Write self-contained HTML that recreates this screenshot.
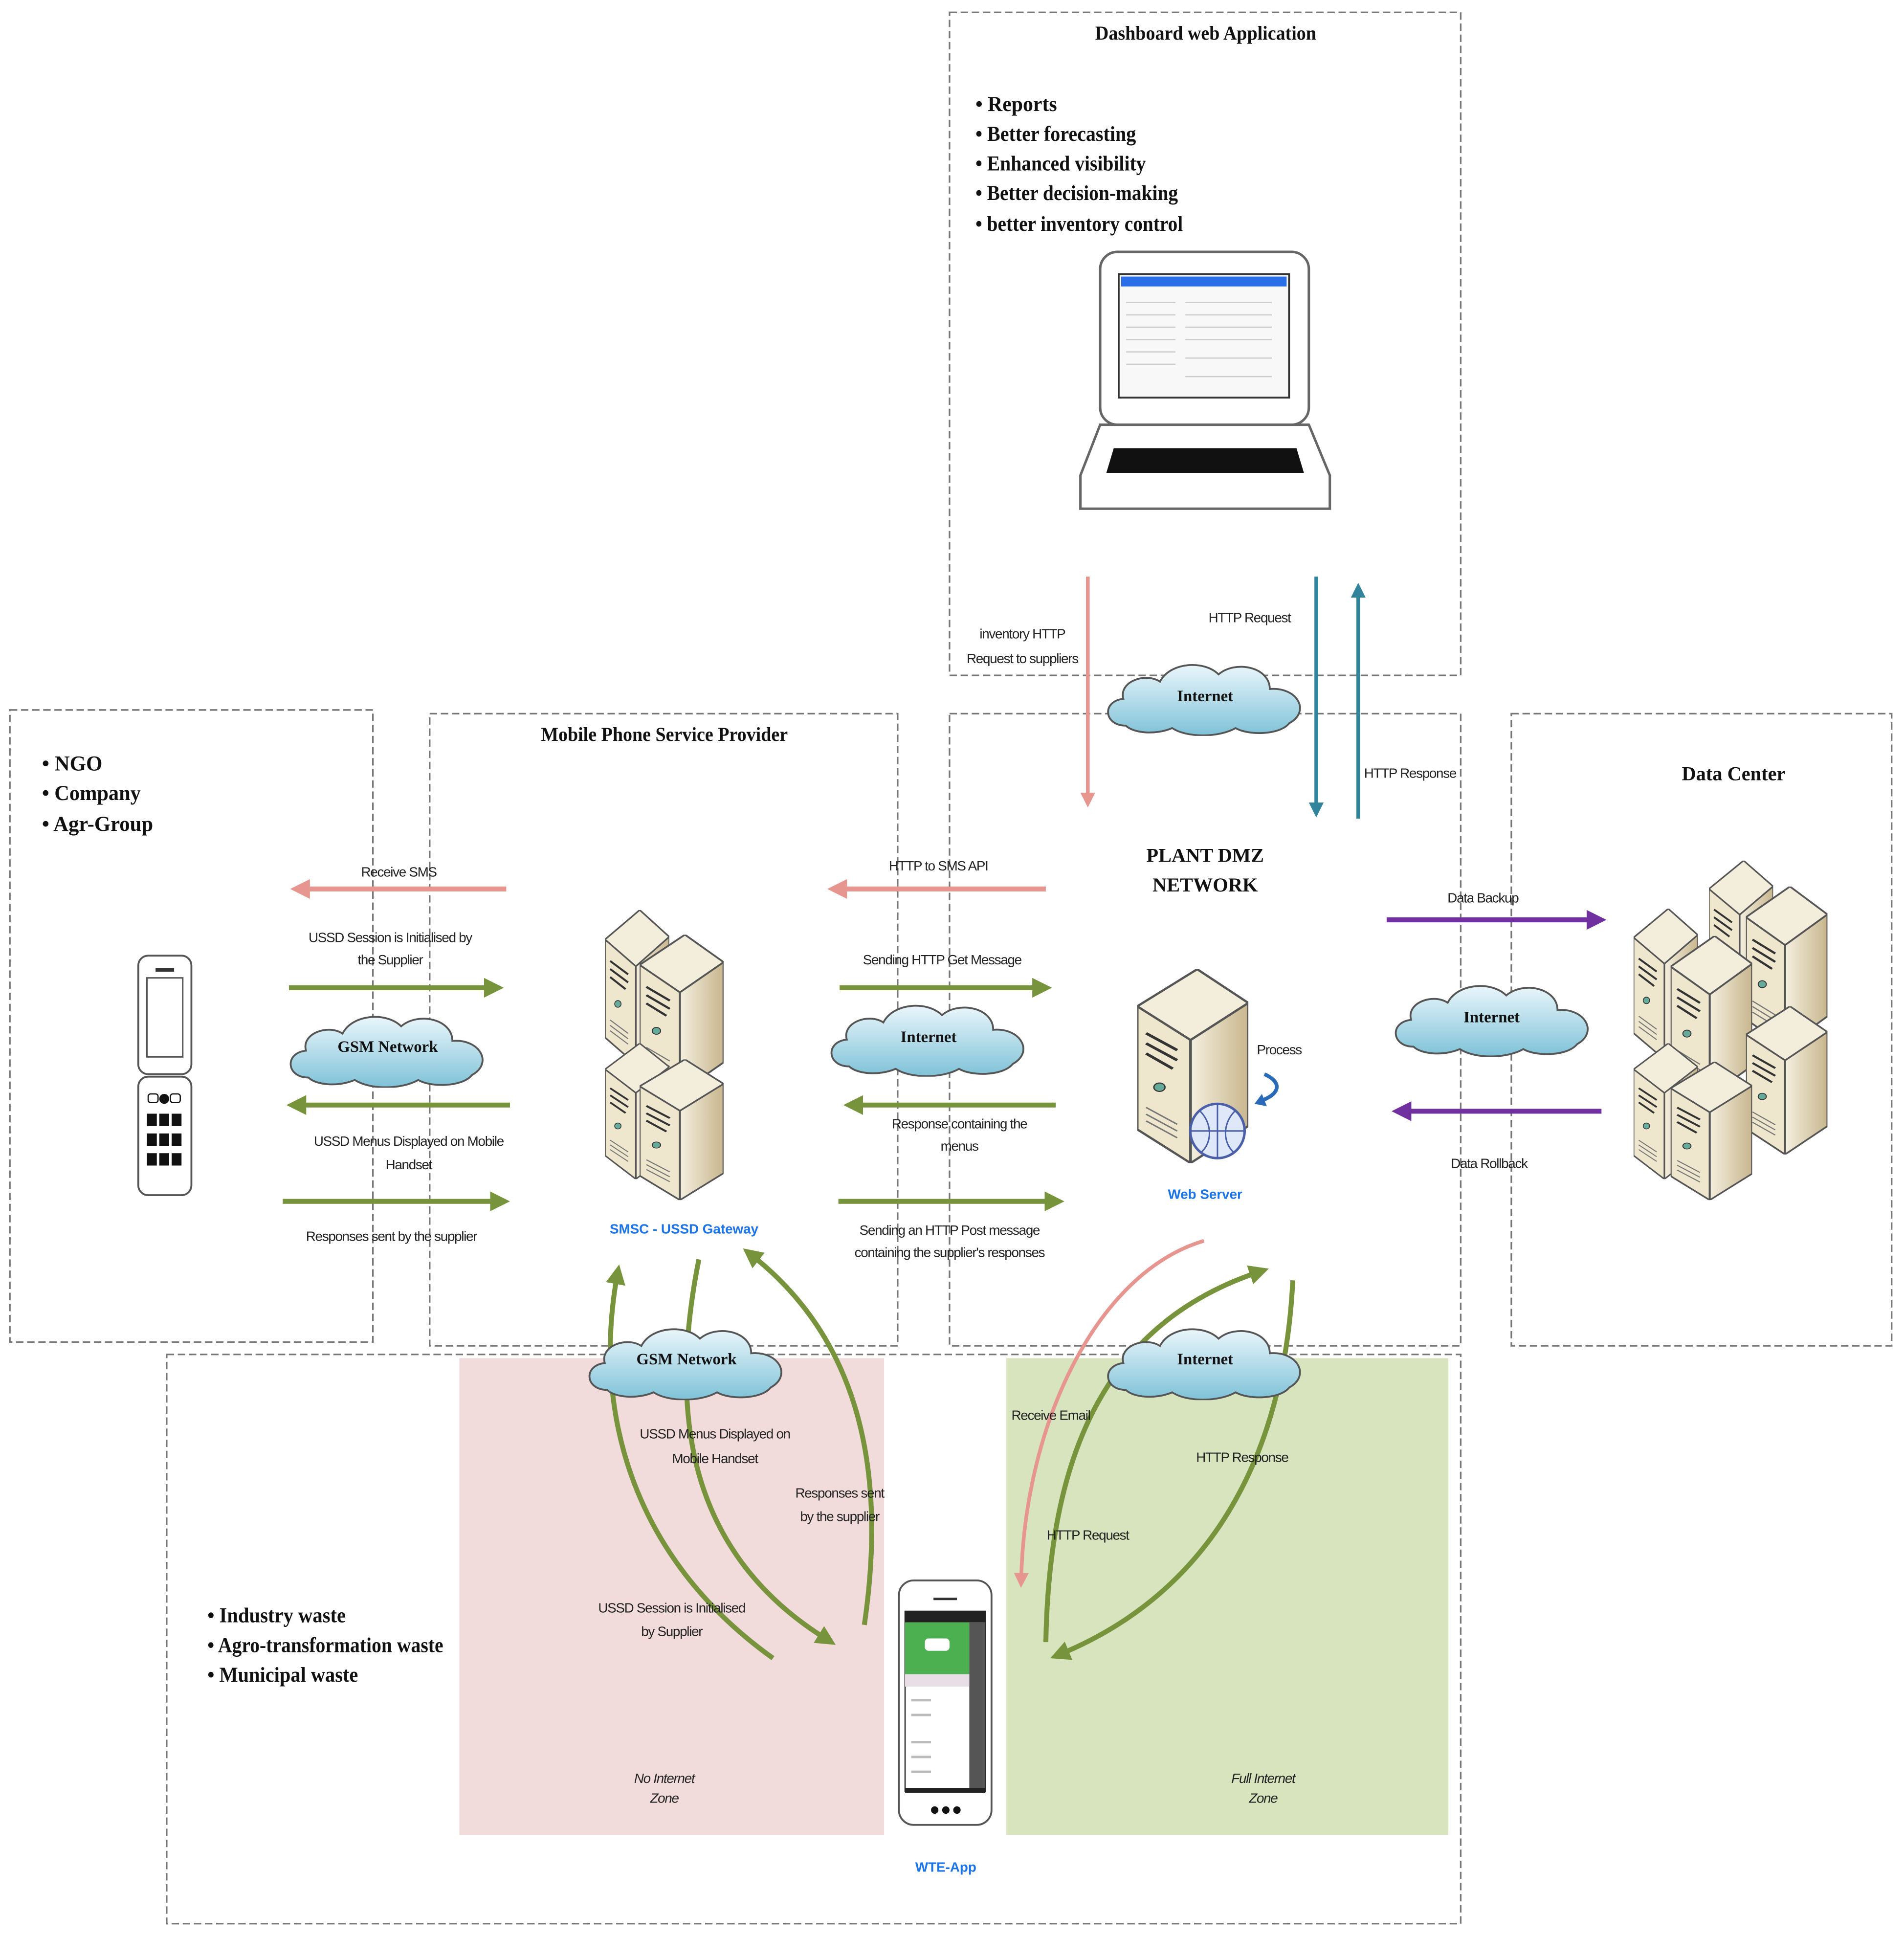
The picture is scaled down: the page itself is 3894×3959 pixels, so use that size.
<!DOCTYPE html>
<html><head><meta charset="utf-8"><style>
html,body{margin:0;padding:0;background:#fff}
svg{display:block}
.t{font-family:"Liberation Sans",sans-serif;font-size:11px;fill:#222;letter-spacing:-0.5px}
.h{font-family:"Liberation Serif",serif;font-weight:bold;font-size:16px;fill:#111}
.b{font-family:"Liberation Serif",serif;font-weight:bold;font-size:17px;fill:#111}
.c{font-family:"Liberation Serif",serif;font-weight:bold;font-size:13px;fill:#111}
.bl{font-family:"Liberation Sans",sans-serif;font-weight:bold;font-size:11px;fill:#1a73e8}
.box{fill:none;stroke:#777;stroke-width:1.3;stroke-dasharray:6,3}
</style></head><body>
<svg width="3894" height="3959" viewBox="0 0 1542 1568" preserveAspectRatio="none" xmlns="http://www.w3.org/2000/svg">
<defs>
<linearGradient id="cl" x1="0" y1="0" x2="0" y2="1"><stop offset="0" stop-color="#eaf6fa"/><stop offset="1" stop-color="#7fc2d8"/></linearGradient>
<linearGradient id="sv" x1="0" y1="0" x2="1" y2="0"><stop offset="0" stop-color="#f4efdf"/><stop offset="1" stop-color="#c8b68e"/></linearGradient>
<symbol id="cloud" viewBox="0 0 170 66">
<path d="M20,58 C2,58 0,38 18,36 C14,22 36,14 48,22 C56,6 84,4 96,16 C110,4 138,10 138,28 C160,26 172,46 154,56 C146,66 120,66 110,60 C96,68 70,68 58,60 C44,66 26,64 20,58 Z" fill="url(#cl)" stroke="#555" stroke-width="1.5"/>
</symbol>
<symbol id="tower" viewBox="0 0 50 115" preserveAspectRatio="none">
<polygon points="0,22 27,0 50,20 24,42" fill="#f3eedc" stroke="#555" stroke-width="1.2"/>
<polygon points="0,22 24,42 24,115 0,95" fill="#eee6cd" stroke="#555" stroke-width="1.2"/>
<polygon points="24,42 50,20 50,93 24,115" fill="url(#sv)" stroke="#555" stroke-width="1.2"/>
<path d="M4,38 l14,10 M4,44 l14,10 M4,50 l12,9" stroke="#333" stroke-width="1.5"/>
<circle cx="10" cy="70" r="2.5" fill="#6a9" stroke="#333" stroke-width=".6"/>
<path d="M4,82 l14,10 M4,86 l14,10 M4,90 l14,10" stroke="#777" stroke-width=".8"/>
</symbol>
<marker id="ag" markerWidth="4" markerHeight="4" refX="2" refY="2" orient="auto" markerUnits="strokeWidth"><path d="M0,0 L4,2 L0,4Z" fill="#77933c"/></marker>
<marker id="ap" markerWidth="4" markerHeight="4" refX="2" refY="2" orient="auto" markerUnits="strokeWidth"><path d="M0,0 L4,2 L0,4Z" fill="#e6958f"/></marker>
<marker id="at" markerWidth="4" markerHeight="4" refX="2" refY="2" orient="auto" markerUnits="strokeWidth"><path d="M0,0 L4,2 L0,4Z" fill="#31849b"/></marker>
<marker id="au" markerWidth="4" markerHeight="4" refX="2" refY="2" orient="auto" markerUnits="strokeWidth"><path d="M0,0 L4,2 L0,4Z" fill="#7030a0"/></marker>
</defs>

<rect x="372" y="1100" width="344" height="386" fill="#f2dcdb"/>
<rect x="815" y="1100" width="358" height="386" fill="#d7e4bd"/>

<rect class="box" x="769" y="10" width="414" height="537"/>
<rect class="box" x="8" y="575" width="294" height="512"/>
<rect class="box" x="348" y="578" width="379" height="512"/>
<rect class="box" x="769" y="578" width="414" height="512"/>
<rect class="box" x="1224" y="578" width="308" height="512"/>
<rect class="box" x="135" y="1097" width="1048" height="461"/>

<text class="h" x="887" y="32" textLength="179" lengthAdjust="spacingAndGlyphs">Dashboard web Application</text>
<g class="b">
<text x="790" y="90" textLength="66" lengthAdjust="spacingAndGlyphs">•  Reports</text>
<text x="790" y="114" textLength="130" lengthAdjust="spacingAndGlyphs">•  Better forecasting</text>
<text x="790" y="138" textLength="138" lengthAdjust="spacingAndGlyphs">•  Enhanced visibility</text>
<text x="790" y="162" textLength="164" lengthAdjust="spacingAndGlyphs">•  Better decision-making</text>
<text x="790" y="187" textLength="168" lengthAdjust="spacingAndGlyphs">•  better inventory control</text>
</g>
<rect x="891" y="204" width="169" height="140" rx="14" fill="#fff" stroke="#666" stroke-width="2"/>
<rect x="906" y="222" width="138" height="100" fill="#f8f8f8" stroke="#333" stroke-width="1.5"/>
<rect x="908" y="224" width="134" height="8" fill="#2a6ee8"/>
<g stroke="#ccc" stroke-width="1"><path d="M912,245h40M912,255h40M912,265h40M912,275h40M912,285h40M912,295h40M960,245h70M960,255h70M960,265h70M960,275h70M960,290h70M960,305h70"/></g>
<polygon points="891,344 1060,344 1077,385 1077,412 875,412 875,385" fill="#fff" stroke="#666" stroke-width="2"/>
<polygon points="902,363 1050,363 1056,383 896,383" fill="#111"/>

<line x1="881" y1="467" x2="881" y2="648" stroke="#e6958f" stroke-width="3" marker-end="url(#ap)"/>
<line x1="1066" y1="467" x2="1066" y2="656" stroke="#31849b" stroke-width="3" marker-end="url(#at)"/>
<line x1="1100" y1="663" x2="1100" y2="478" stroke="#31849b" stroke-width="3" marker-end="url(#at)"/>
<text class="t" x="828" y="517" text-anchor="middle">inventory HTTP</text>
<text class="t" x="828" y="537" text-anchor="middle">Request to suppliers</text>
<text class="t" x="1012" y="504" text-anchor="middle">HTTP Request</text>
<text class="t" x="1142" y="630" text-anchor="middle">HTTP Response</text>
<use href="#cloud" x="892" y="530" width="168" height="66"/>
<text class="c" x="976" y="568" text-anchor="middle">Internet</text>

<g class="b">
<text x="34" y="624">•  NGO</text>
<text x="34" y="648" textLength="80" lengthAdjust="spacingAndGlyphs">•  Company</text>
<text x="34" y="673" textLength="90" lengthAdjust="spacingAndGlyphs">•  Agr-Group</text>
</g>
<rect x="112" y="774" width="43" height="96" rx="8" fill="#fff" stroke="#555" stroke-width="1.5"/>
<rect x="119" y="792" width="29" height="64" fill="#fff" stroke="#555" stroke-width="1.2"/>
<rect x="126" y="784" width="15" height="3" fill="#333"/>
<rect x="112" y="872" width="43" height="96" rx="8" fill="#fff" stroke="#555" stroke-width="1.5"/>
<g fill="#111"><circle cx="133" cy="890" r="4"/><rect x="120" y="886" width="8" height="7" rx="2" fill="none" stroke="#111"/><rect x="138" y="886" width="8" height="7" rx="2" fill="none" stroke="#111"/>
<rect x="119" y="902" width="8" height="10"/><rect x="129" y="902" width="8" height="10"/><rect x="139" y="902" width="8" height="10"/>
<rect x="119" y="918" width="8" height="10"/><rect x="129" y="918" width="8" height="10"/><rect x="139" y="918" width="8" height="10"/>
<rect x="119" y="934" width="8" height="10"/><rect x="129" y="934" width="8" height="10"/><rect x="139" y="934" width="8" height="10"/></g>

<line x1="410" y1="720" x2="243" y2="720" stroke="#e6958f" stroke-width="4" marker-end="url(#ap)"/>
<text class="t" x="323" y="710" text-anchor="middle">Receive SMS</text>
<text class="t" x="316" y="763" text-anchor="middle">USSD Session is Initialised by</text>
<text class="t" x="316" y="781" text-anchor="middle">the Supplier</text>
<line x1="234" y1="800" x2="400" y2="800" stroke="#77933c" stroke-width="4" marker-end="url(#ag)"/>
<use href="#cloud" x="230" y="815" width="168" height="66"/>
<text class="c" x="314" y="852" text-anchor="middle">GSM Network</text>
<line x1="413" y1="895" x2="240" y2="895" stroke="#77933c" stroke-width="4" marker-end="url(#ag)"/>
<text class="t" x="331" y="928" text-anchor="middle">USSD Menus Displayed on Mobile</text>
<text class="t" x="331" y="947" text-anchor="middle">Handset</text>
<line x1="229" y1="973" x2="405" y2="973" stroke="#77933c" stroke-width="4" marker-end="url(#ag)"/>
<text class="t" x="317" y="1005" text-anchor="middle">Responses sent by the supplier</text>

<text class="h" x="438" y="600" textLength="200" lengthAdjust="spacingAndGlyphs">Mobile Phone Service Provider</text>
<use href="#tower" x="490" y="737" width="52" height="125"/>
<use href="#tower" x="518" y="757" width="68" height="128"/>
<use href="#tower" x="490" y="845" width="52" height="110"/>
<use href="#tower" x="518" y="858" width="68" height="114"/>
<text class="bl" x="554" y="999" text-anchor="middle">SMSC - USSD Gateway</text>

<line x1="847" y1="720" x2="678" y2="720" stroke="#e6958f" stroke-width="4" marker-end="url(#ap)"/>
<text class="t" x="760" y="705" text-anchor="middle">HTTP to SMS API</text>
<text class="t" x="763" y="781" text-anchor="middle">Sending HTTP Get Message</text>
<line x1="680" y1="800" x2="844" y2="800" stroke="#77933c" stroke-width="4" marker-end="url(#ag)"/>
<use href="#cloud" x="668" y="806" width="168" height="66"/>
<text class="c" x="752" y="844" text-anchor="middle">Internet</text>
<line x1="855" y1="895" x2="691" y2="895" stroke="#77933c" stroke-width="4" marker-end="url(#ag)"/>
<text class="t" x="777" y="914" text-anchor="middle">Response containing the</text>
<text class="t" x="777" y="932" text-anchor="middle">menus</text>
<line x1="679" y1="973" x2="854" y2="973" stroke="#77933c" stroke-width="4" marker-end="url(#ag)"/>
<text class="t" x="769" y="1000" text-anchor="middle">Sending an HTTP Post message</text>
<text class="t" x="769" y="1018" text-anchor="middle">containing the supplier's responses</text>

<text class="h" x="976" y="698" text-anchor="middle">PLANT DMZ</text>
<text class="h" x="976" y="722" text-anchor="middle">NETWORK</text>
<use href="#tower" x="921" y="785" width="90" height="157"/>
<circle cx="986" cy="916" r="22" fill="#dfe8f8" stroke="#4a5fa8" stroke-width="2"/>
<path d="M964,916h44M986,894v44M972,900c10,10 10,26 0,34M1000,900c-10,10 -10,26 0,34" stroke="#4a5fa8" fill="none" stroke-width="1.2"/>
<path d="M1024,870 c14,6 14,16 -4,22" stroke="#2a6ab8" stroke-width="3" fill="none"/>
<path d="M1022,886 l-6,8 l10,2z" fill="#2a6ab8"/>
<text class="t" x="1036" y="854" text-anchor="middle">Process</text>
<text class="bl" x="976" y="971" text-anchor="middle">Web Server</text>

<text class="h" x="1404" y="632" text-anchor="middle">Data Center</text>
<line x1="1123" y1="745" x2="1293" y2="745" stroke="#7030a0" stroke-width="4" marker-end="url(#au)"/>
<text class="t" x="1201" y="731" text-anchor="middle">Data Backup</text>
<use href="#cloud" x="1125" y="790" width="168" height="66"/>
<text class="c" x="1208" y="828" text-anchor="middle">Internet</text>
<line x1="1297" y1="900" x2="1135" y2="900" stroke="#7030a0" stroke-width="4" marker-end="url(#au)"/>
<text class="t" x="1206" y="946" text-anchor="middle">Data Rollback</text>
<use href="#tower" x="1384" y="697" width="52" height="120"/>
<use href="#tower" x="1414" y="718" width="66" height="130"/>
<use href="#tower" x="1323" y="736" width="52" height="122"/>
<use href="#tower" x="1353" y="758" width="66" height="130"/>
<use href="#tower" x="1414" y="815" width="66" height="120"/>
<use href="#tower" x="1323" y="845" width="52" height="110"/>
<use href="#tower" x="1353" y="860" width="66" height="112"/>

<g class="b">
<text x="168" y="1314" textLength="112" lengthAdjust="spacingAndGlyphs">•  Industry waste</text>
<text x="168" y="1338" textLength="191" lengthAdjust="spacingAndGlyphs">•  Agro-transformation waste</text>
<text x="168" y="1362" textLength="122" lengthAdjust="spacingAndGlyphs">•  Municipal waste</text>
</g>
<path d="M626,1343 C510,1260 480,1140 500,1032" stroke="#77933c" stroke-width="4" fill="none" marker-end="url(#ag)"/>
<path d="M566,1020 C540,1150 560,1260 670,1328" stroke="#77933c" stroke-width="4" fill="none" marker-end="url(#ag)"/>
<path d="M700,1316 C720,1180 690,1080 608,1016" stroke="#77933c" stroke-width="4" fill="none" marker-end="url(#ag)"/>
<use href="#cloud" x="472" y="1068" width="168" height="66"/>
<text class="c" x="556" y="1105" text-anchor="middle">GSM Network</text>
<text class="t" x="579" y="1165" text-anchor="middle">USSD Menus Displayed on</text>
<text class="t" x="579" y="1185" text-anchor="middle">Mobile Handset</text>
<text class="t" x="680" y="1213" text-anchor="middle">Responses sent</text>
<text class="t" x="680" y="1232" text-anchor="middle">by the supplier</text>
<text class="t" x="544" y="1306" text-anchor="middle">USSD Session is Initialised</text>
<text class="t" x="544" y="1325" text-anchor="middle">by Supplier</text>
<text class="t" x="538" y="1444" text-anchor="middle" font-style="italic" font-size="9">No Internet</text>
<text class="t" x="538" y="1460" text-anchor="middle" font-style="italic" font-size="9">Zone</text>

<path d="M975,1005 C890,1030 830,1150 827,1280" stroke="#e6958f" stroke-width="3" fill="none" marker-end="url(#ap)"/>
<path d="M847,1330 C850,1170 900,1070 1020,1030" stroke="#77933c" stroke-width="4" fill="none" marker-end="url(#ag)"/>
<path d="M1047,1037 C1040,1180 980,1290 858,1340" stroke="#77933c" stroke-width="4" fill="none" marker-end="url(#ag)"/>
<use href="#cloud" x="892" y="1068" width="168" height="66"/>
<text class="c" x="976" y="1105" text-anchor="middle">Internet</text>
<text class="t" x="851" y="1150" text-anchor="middle">Receive Email</text>
<text class="t" x="1006" y="1184" text-anchor="middle">HTTP Response</text>
<text class="t" x="881" y="1247" text-anchor="middle">HTTP Request</text>
<text class="t" x="1023" y="1444" text-anchor="middle" font-style="italic" font-size="9">Full Internet</text>
<text class="t" x="1023" y="1460" text-anchor="middle" font-style="italic" font-size="9">Zone</text>

<rect x="728" y="1280" width="75" height="198" rx="12" fill="#fff" stroke="#555" stroke-width="1.5"/>
<rect x="756" y="1294" width="19" height="2" fill="#333"/>
<rect x="733" y="1305" width="65" height="146" fill="#fff" stroke="#222" stroke-width="1"/>
<rect x="733" y="1305" width="65" height="9" fill="#222"/>
<rect x="733" y="1314" width="52" height="42" fill="#4caf50"/>
<rect x="785" y="1314" width="13" height="137" fill="#555"/>
<rect x="749" y="1327" width="20" height="10" rx="3" fill="#fff"/>
<rect x="733" y="1356" width="52" height="10" fill="#e8dfe6"/>
<g fill="#bbb"><rect x="738" y="1376" width="16" height="2"/><rect x="738" y="1388" width="16" height="2"/><rect x="738" y="1410" width="16" height="2"/><rect x="738" y="1422" width="16" height="2"/><rect x="738" y="1434" width="16" height="2"/></g>
<rect x="733" y="1448" width="65" height="4" fill="#222"/>
<circle cx="757" cy="1466" r="3" fill="#111"/><circle cx="766" cy="1466" r="3" fill="#111"/><circle cx="775" cy="1466" r="3" fill="#111"/>
<text class="bl" x="766" y="1516" text-anchor="middle" font-size="15">WTE-App</text>
</svg>
</body></html>
